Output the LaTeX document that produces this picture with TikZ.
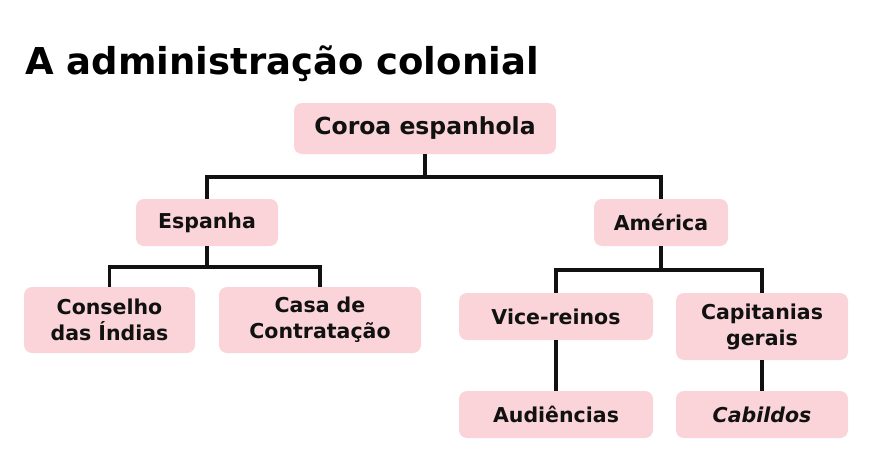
\documentclass[tikz,border=0pt]{standalone}
\usepackage{fontspec}
\setmainfont{DejaVu Sans}
\definecolor{boxpink}{RGB}{250,212,216}
\definecolor{linek}{RGB}{17,17,17}
\begin{document}
\begin{tikzpicture}[x=1pt,y=-1pt,
  box/.style={fill=boxpink,rounded corners=8pt,inner sep=0pt,align=center,
    font=\bfseries\fontsize{20.5}{26}\selectfont,text=linek},
  conn/.style={draw=linek,line width=3.4pt}]
\useasboundingbox (0,0) rectangle (887,466);
\node[anchor=base west,inner sep=0pt,font=\bfseries\fontsize{37}{44}\selectfont] (title) at (25,74) {A administração colonial};
\node[box,minimum width=262pt,minimum height=51pt,font=\bfseries\fontsize{23.5}{28}\selectfont] (coroa) at (425,128.5) {Coroa espanhola};
\node[box,minimum width=142pt,minimum height=47pt] (espanha) at (207,222.5) {Espanha};
\node[box,minimum width=134pt,minimum height=47pt] (america) at (661,222.5) {América};
\node[box,minimum width=171pt,minimum height=66pt] (conselho) at (109.5,320) {Conselho\\das Índias};
\node[box,minimum width=202pt,minimum height=66pt] (casa) at (320,320) {Casa de\\Contratação};
\node[box,minimum width=194pt,minimum height=47pt] (vice) at (556,316.5) {Vice-reinos};
\node[box,minimum width=172pt,minimum height=67pt] (capit) at (762,326.5) {Capitanias\\gerais};
\node[box,minimum width=194pt,minimum height=47pt] (aud) at (556,414.5) {Audiências};
\node[box,minimum width=172pt,minimum height=47pt] (cab) at (762,414.5) {\itshape Cabildos};
\coordinate (j1) at (425,177);
\coordinate (j2) at (207,267);
\coordinate (j3) at (661,270);
\draw[conn] (coroa.south) -- (j1) -| (espanha.north);
\draw[conn] (j1) -| (america.north);
\draw[conn] (espanha.south) -- (j2) -| (conselho.north);
\draw[conn] (j2) -| (casa.north);
\draw[conn] (america.south) -- (j3) -| (vice.north);
\draw[conn] (j3) -| (capit.north);
\draw[conn] (vice.south) -- (aud.north);
\draw[conn] (capit.south) -- (cab.north);
\end{tikzpicture}
\end{document}
